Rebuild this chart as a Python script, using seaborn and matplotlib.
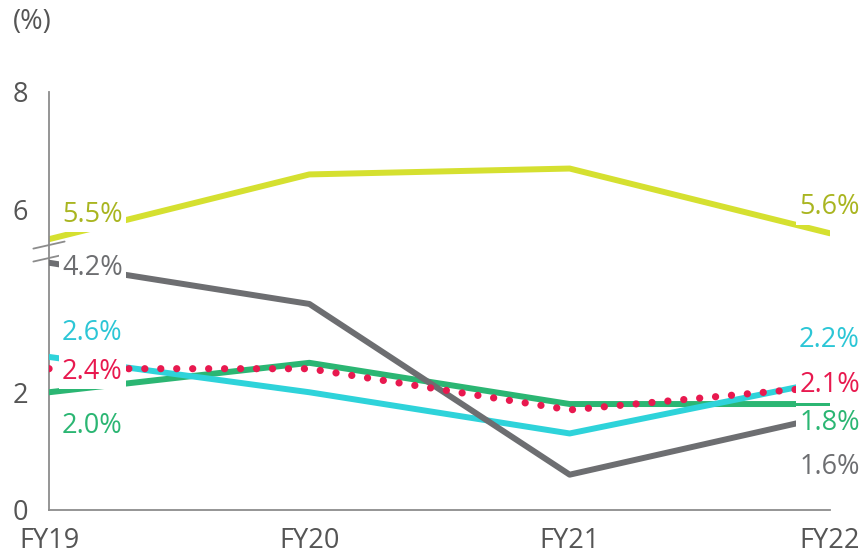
import numpy as np
import pandas as pd
import seaborn as sns
import matplotlib.pyplot as plt
from matplotlib.transforms import blended_transform_factory

# ============================== DATA ==============================

years        = ["FY19", "FY20", "FY21", "FY22"]
yellow_vals  = [5.5, 6.6, 6.7, 5.6]
gray_vals    = [4.2, 3.5, 0.6, 1.6]
cyan_vals    = [2.6, 2.0, 1.3, 2.2]
red_vals     = [2.4, 2.4, 1.7, 2.1]
green_vals   = [2.0, 2.5, 1.8, 1.8]
y_ticks      = [0, 2, 6, 8]

# ============================== STYLE ==============================

# name: (values, line colour, label colour, zorder)
series = {
    "yellow": (yellow_vals, "#d5e030", "#a9b520", 2),
    "green":  (green_vals,  "#2bb673", "#2bb673", 3),
    "cyan":   (cyan_vals,   "#2ed3da", "#2cc6d6", 4),
    "gray":   (gray_vals,   "#6d6e71", "#6d6e71", 5),
    "red":    (red_vals,    "#e8194f", "#e8194f", 6),
}

# label offsets in pixels (dx, dy from the point, baseline anchored)
first_offsets = {"yellow": (13, 17), "gray": (13, -12), "cyan": (13, 17),
                 "red": (13, -10), "green": (13, -41)}
last_offsets  = {"yellow": (30, 19), "cyan": (30, 33), "red": (30, -6),
                 "green": (30, -26), "gray": (30, -58)}

# broken y axis: squeeze the 4.3 .. 5.45 band
B0, B1 = 4.3, 5.45
K = 0.25 / (B1 - B0)

def fwd(y):
    y = np.asarray(y, dtype=float)
    return np.where(y <= B0, y, np.where(y <= B1, B0 + (y - B0) * K, y - (B1 - B0) * (1 - K)))

def inv(t):
    t = np.asarray(t, dtype=float)
    return np.where(t <= B0, t, np.where(t <= B0 + (B1 - B0) * K, B0 + (t - B0) / K, t + (B1 - B0) * (1 - K)))

sns.set_theme(style="white")
plt.rcParams['font.family'] = ['Open Sans', 'DejaVu Sans']

FS = 19.5
TICK_COLOR = "#555555"
AXIS_COLOR = "#8c8c8c"

fig = plt.figure(figsize=(8.66, 5.55), dpi=100)
ax = fig.add_axes([49 / 866, 1 - 510 / 555, (830 - 49) / 866, (510 - 92) / 555])

for name, (vals, color, lcolor, z) in series.items():
    df = pd.DataFrame({"year": years, "value": vals})
    if name == "red":
        sns.lineplot(data=df, x="year", y="value", ax=ax, color=color, lw=5.2,
                     linestyle=(0, (0.01, 2.2)), dash_capstyle="round", zorder=z)
    else:
        sns.lineplot(data=df, x="year", y="value", ax=ax, color=color, lw=4.3,
                     solid_capstyle="round", zorder=z)

ax.set_yscale("function", functions=(fwd, inv))
ax.set_ylim(0, 8)
ax.set_xlim(0, len(years) - 1)
ax.set_yticks(y_ticks)
ax.set_yticklabels([str(t) for t in y_ticks])
ax.minorticks_off()
ax.set_xlabel("")
ax.set_ylabel("")

box = dict(boxstyle="square,pad=0.12", fc="white", ec="none")
for name, (vals, color, lcolor, z) in series.items():
    dx, dy = first_offsets[name]
    ax.annotate(f"{vals[0]:.1f}%", xy=(0, vals[0]), xytext=(dx, dy), textcoords="offset pixels",
                ha="left", va="baseline", fontsize=FS, color=lcolor, bbox=box, zorder=10,
                annotation_clip=False)
    dx, dy = last_offsets[name]
    ax.annotate(f"{vals[-1]:.1f}%", xy=(len(years) - 1, vals[-1]), xytext=(dx, dy),
                textcoords="offset pixels", ha="right", va="baseline", fontsize=FS,
                color=lcolor, bbox=box, zorder=10, annotation_clip=False)

sns.despine(ax=ax)
for side in ["left", "bottom"]:
    ax.spines[side].set_color(AXIS_COLOR)
    ax.spines[side].set_linewidth(1.3)
ax.tick_params(axis="y", length=0, pad=15, labelsize=FS, labelcolor=TICK_COLOR)
ax.tick_params(axis="x", length=0, pad=12, labelsize=FS, labelcolor=TICK_COLOR)

# axis break marks
tr = blended_transform_factory(ax.transAxes, ax.transData)
for t in [4.50, 4.28]:
    y_lo = inv(t - 0.06)
    y_hi = inv(t + 0.06)
    ax.plot([-0.02, 0.02], [y_lo, y_hi], transform=tr, color=AXIS_COLOR, lw=1.3,
            clip_on=False, zorder=1)

fig.text(13 / 866, 1 - 22 / 555, "(%)", fontsize=FS, color=TICK_COLOR, ha="left", va="center")

fig.savefig("out.png", dpi=100)
